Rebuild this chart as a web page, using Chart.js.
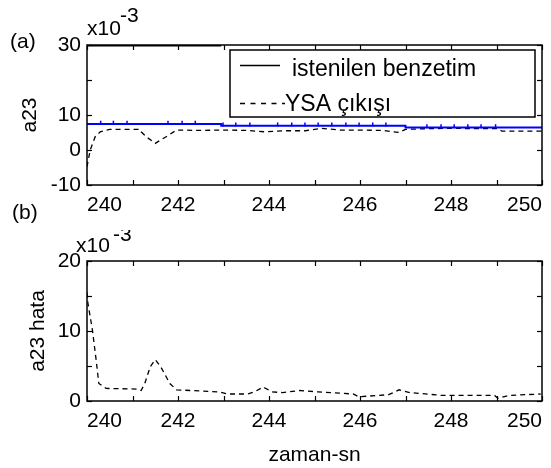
<!DOCTYPE html>
<html><head><meta charset="utf-8">
<script src="https://cdn.jsdelivr.net/npm/chart.js@4"></script>
<style>
html,body{margin:0;padding:0;background:#fff;}
#wrap{position:relative;width:551px;height:468px;overflow:hidden;}
#c1{position:absolute;left:0;top:0;}
#c2{position:absolute;left:0;top:230px;}
</style></head><body>
<div id="wrap">
<canvas id="c1" width="551" height="230"></canvas>
<canvas id="c2" width="551" height="238"></canvas>
</div>
<script>
// ---------- data ----------
const xMin = 240, xMax = 250;
const xLabelValues = [240, 242, 244, 246, 248, 250];

const topYTickValues = [-10, 0, 10, 20, 30];
const topYTickLabels = ['-10', '0', '10', '', '30'];
const botYTickValues = [0, 5, 10, 15, 20];
const botYTickLabels = ['0', '', '10', '', '20'];

// "istenilen benzetim" (blue, stepped)
const desiredX = [240, 242.95, 242.95, 247.0, 247.0, 250];
const desiredY = [7.4, 7.4, 6.9, 6.9, 6.4, 6.4];
// small marks on the blue line
const markX = [240.3, 240.58, 240.88, 241.78, 242.09, 242.38, 242.99, 243.27, 243.58, 244.19, 244.5, 244.79,
               245.08, 245.38, 245.69, 245.98, 246.28, 246.57, 247.47, 247.78, 248.07, 248.37, 248.66, 248.98];
const markY = [7.8, 7.8, 7.8, 7.8, 7.8, 7.8, 7.3, 7.3, 7.3, 7.3, 7.3, 7.3,
               7.3, 7.3, 7.3, 7.3, 7.3, 7.3, 6.8, 6.8, 6.8, 6.8, 6.8, 6.8];
// black segment on the top border
const topSegX = [240, 242.95];
const topSegY = [30, 30];

// "YSA çıkışı" (dashed)
const ysaX = [240.0, 240.07, 240.18, 240.29, 240.5, 241.16, 241.19, 241.3, 241.5, 241.74, 241.97, 242.5, 243.0,
              243.5, 243.91, 244.3, 244.8, 245.16, 245.54, 246.0, 246.5, 246.86, 247.0, 247.5, 248.0, 248.5,
              249.0, 249.12, 249.5, 250.0];
const ysaY = [-4.8, 0.0, 3.8, 5.2, 5.9, 5.9, 5.2, 3.8, 1.9, 3.8, 5.7, 5.6, 5.7,
              5.6, 5.2, 5.5, 5.5, 6.2, 5.7, 5.7, 5.6, 5.0, 5.9, 6.1, 6.2, 6.1,
              6.1, 5.4, 5.4, 5.4];

// "a23 hata" (error, dashed)
const errX = [240.0, 240.02, 240.12, 240.2, 240.26, 240.42, 241.12, 241.19, 241.27, 241.39, 241.5, 241.62,
              241.82, 241.97, 242.9, 243.1, 243.52, 243.68, 243.87, 244.07, 244.3, 244.68, 245.08, 245.85,
              245.97, 246.63, 246.86, 247.1, 247.8, 248.96, 249.03, 249.27, 249.97];
const errY = [15.5, 14.0, 10.1, 5.9, 2.5, 1.8, 1.7, 1.5, 2.5, 4.9, 5.9, 4.9,
              2.5, 1.6, 1.3, 1.0, 1.0, 1.3, 2.0, 1.3, 1.2, 1.5, 1.3, 1.0,
              0.6, 0.9, 1.6, 1.2, 0.8, 0.8, 0.4, 0.8, 1.0];

const legendLabels = ['istenilen benzetim', 'YSA çıkışı'];

// ---------- helpers ----------
const FONT = "'Liberation Sans', Arial, Helvetica, sans-serif";
const pts = (xs, ys) => xs.map((v, i) => ({x: v, y: ys[i]}));

const framePlugin = {
  id: 'frame',
  afterDraw(chart, args, opts) {
    const {ctx, chartArea: a, scales: {x, y}} = chart;
    ctx.save();
    ctx.strokeStyle = '#000';
    ctx.lineWidth = 1.5;
    ctx.strokeRect(a.left, a.top, a.width, a.height);
    ctx.lineWidth = 1.2;
    const L = 5;
    const seg = (x1, y1, x2, y2) => { ctx.beginPath(); ctx.moveTo(x1, y1); ctx.lineTo(x2, y2); ctx.stroke(); };
    x.ticks.forEach(t => {
      const px = Math.round(x.getPixelForValue(t.value)) + 0.5;
      seg(px, a.bottom, px, a.bottom - L);
      seg(px, a.top, px, a.top + L);
    });
    y.ticks.forEach(t => {
      const py = Math.round(y.getPixelForValue(t.value)) + 0.5;
      seg(a.left, py, a.left + L, py);
      seg(a.right, py, a.right - L, py);
    });
    ctx.fillStyle = '#000';
    ctx.textBaseline = 'middle';
    ctx.textAlign = 'left';
    (opts.texts || []).forEach(t => {
      ctx.font = (t.size || 21) + 'px ' + FONT;
      ctx.fillText(t.text, t.x, t.y);
    });
    if (opts.legend) {
      const lg = opts.legend;
      ctx.fillStyle = '#fff';
      ctx.fillRect(lg.left, lg.top, lg.right - lg.left, lg.bottom - lg.top);
      ctx.lineWidth = 1.5;
      ctx.strokeStyle = '#000';
      ctx.strokeRect(lg.left, lg.top, lg.right - lg.left, lg.bottom - lg.top);
      ctx.fillStyle = '#000';
      ctx.font = '23px ' + FONT;
      ctx.textBaseline = 'alphabetic';
      // entry 1: solid
      ctx.lineWidth = 1.5;
      ctx.setLineDash([]);
      seg(lg.left + 10, lg.top + 15.5, lg.left + 50, lg.top + 15.5);
      ctx.fillText(legendLabels[0], lg.left + 62, lg.top + 26);
      // entry 2: dashed
      ctx.setLineDash([5, 5.5]);
      seg(lg.left + 10, lg.top + 53.5, lg.left + 55, lg.top + 53.5);
      ctx.setLineDash([]);
      ctx.fillText(legendLabels[1], lg.left + 55, lg.top + 61);
    }
    ctx.restore();
  }
};

function xScale(height, title) {
  return {
    type: 'linear', min: xMin, max: xMax,
    grid: {display: false, drawTicks: false},
    border: {display: false},
    ticks: {
      stepSize: 1, autoSkip: false, maxRotation: 0, minRotation: 0, align: 'inner',
      padding: 8, color: '#000', font: {family: FONT, size: 21},
      callback: v => xLabelValues.includes(v) ? String(v) : ''
    },
    title: title ? {display: true, text: title, color: '#000', font: {family: FONT, size: 21}, padding: {top: 0, bottom: 0}} : {display: false},
    afterFit: s => { s.height = height; s.paddingLeft = 0; s.paddingRight = 0; }
  };
}
function yScale(min, max, step, vals, labels, title, tpad) {
  return {
    type: 'linear', min: min, max: max,
    grid: {display: false, drawTicks: false},
    border: {display: false},
    ticks: {
      stepSize: step, autoSkip: false, padding: 6, color: '#000', font: {family: FONT, size: 21},
      callback: v => { const i = vals.indexOf(v); return i >= 0 ? labels[i] : ''; }
    },
    title: {display: true, text: title, color: '#000', font: {family: FONT, size: 21}, padding: {top: tpad, bottom: 0}},
    afterFit: s => { s.width = 87; s.paddingTop = 0; s.paddingBottom = 0; }
  };
}

const common = {
  responsive: false, animation: false, devicePixelRatio: 1,
  plugins: {legend: {display: false}, tooltip: {enabled: false}},
  elements: {point: {radius: 0}, line: {tension: 0}}
};

new Chart(document.getElementById('c1'), {
  type: 'line',
  data: {datasets: [
    {label: 'top', data: pts(topSegX, topSegY), borderColor: '#000', borderWidth: 3, pointRadius: 0},
    {label: legendLabels[0], data: pts(desiredX, desiredY), borderColor: '#0000ff', borderWidth: 2, pointRadius: 0},
    {label: 'marks', data: pts(markX, markY), showLine: false, pointStyle: 'line', rotation: 90,
     pointRadius: 2, borderColor: '#0000ff', pointBorderColor: '#0000ff', pointBorderWidth: 1.5},
    {label: legendLabels[1], data: pts(ysaX, ysaY), borderColor: '#000', borderWidth: 1.3, borderDash: [5, 4], pointRadius: 0}
  ]},
  options: Object.assign({}, common, {
    layout: {padding: {top: 45, right: 9, left: 0, bottom: 0}},
    scales: {
      x: xScale(45, null),
      y: yScale(-10, 30, 10, topYTickValues, topYTickLabels, 'a23', 18)
    },
    plugins: Object.assign({}, common.plugins, {
      frame: {
        texts: [
          {text: '(a)', x: 10, y: 42},
          {text: 'x10', x: 87, y: 29},
          {text: '-3', x: 120, y: 16},
          {text: '(b)', x: 12, y: 213}
        ],
        legend: {left: 230, top: 50, right: 535, bottom: 117}
      }
    })
  }),
  plugins: [framePlugin]
});

new Chart(document.getElementById('c2'), {
  type: 'line',
  data: {datasets: [
    {label: 'a23 hata', data: pts(errX, errY), borderColor: '#000', borderWidth: 1.3, borderDash: [5, 4], pointRadius: 0}
  ]},
  options: Object.assign({}, common, {
    layout: {padding: {top: 31, right: 9, left: 0, bottom: 0}},
    scales: {
      x: xScale(67, 'zaman-sn'),
      y: yScale(0, 20, 5, botYTickValues, botYTickLabels, 'a23 hata', 26)
    },
    plugins: Object.assign({}, common.plugins, {
      frame: {
        texts: [
          {text: 'x10', x: 76, y: 16},
          {text: '-3', x: 113, y: 5}
        ]
      }
    })
  }),
  plugins: [framePlugin]
});
</script>
</body></html>
